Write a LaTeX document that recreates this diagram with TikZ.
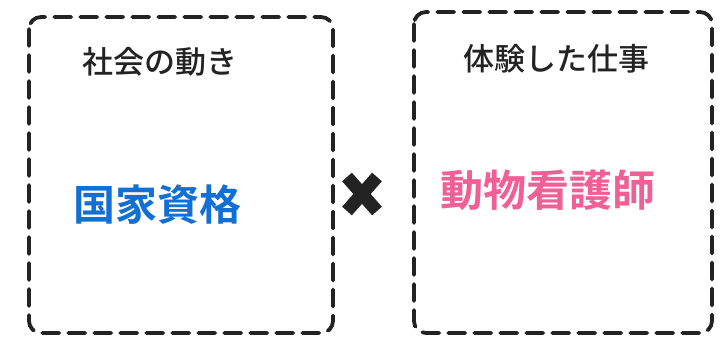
\documentclass[tikz,border=0pt]{standalone}
\usepackage{fontspec}
\newfontfamily\cjk{Noto Sans CJK JP Medium}
\newfontfamily\cjkb{Noto Sans CJK JP Bold}
\definecolor{inkblue}{RGB}{18,112,212}
\definecolor{inkpink}{RGB}{240,96,150}
\definecolor{ink}{RGB}{35,35,35}
\tikzset{
  frame/.style={draw=ink, line width=3.8pt, dash pattern=on 17pt off 9pt, rounded corners=12pt, line cap=round},
  titletext/.style={text=ink, font=\cjk\fontsize{31}{34}\selectfont, inner sep=0pt},
  bigtext/.style={font=\cjkb\fontsize{42}{46}\selectfont, inner sep=0pt},
}
\begin{document}
\begin{tikzpicture}[x=1pt,y=-1pt]
\useasboundingbox (0,0) rectangle (726,338);
\fill[white] (0,0) rectangle (726,338);
\draw[frame] (29,17) rectangle (333,333);
\draw[frame] (414,12) rectangle (712,333);
\node[titletext] (t1) at (160,62) {社会の動き};
\node[titletext] (t2) at (556,59) {体験した仕事};
\node[bigtext, text=inkblue] (b1) at (157,205) {国家資格};
\node[bigtext, text=inkpink, font=\cjkb\fontsize{43}{46}\selectfont] (b2) at (548,190) {動物看護師};
\draw[ink, line width=13pt] (347,177) -- (377,211);
\draw[ink, line width=13pt] (377,177) -- (347,211);
\end{tikzpicture}
\end{document}
